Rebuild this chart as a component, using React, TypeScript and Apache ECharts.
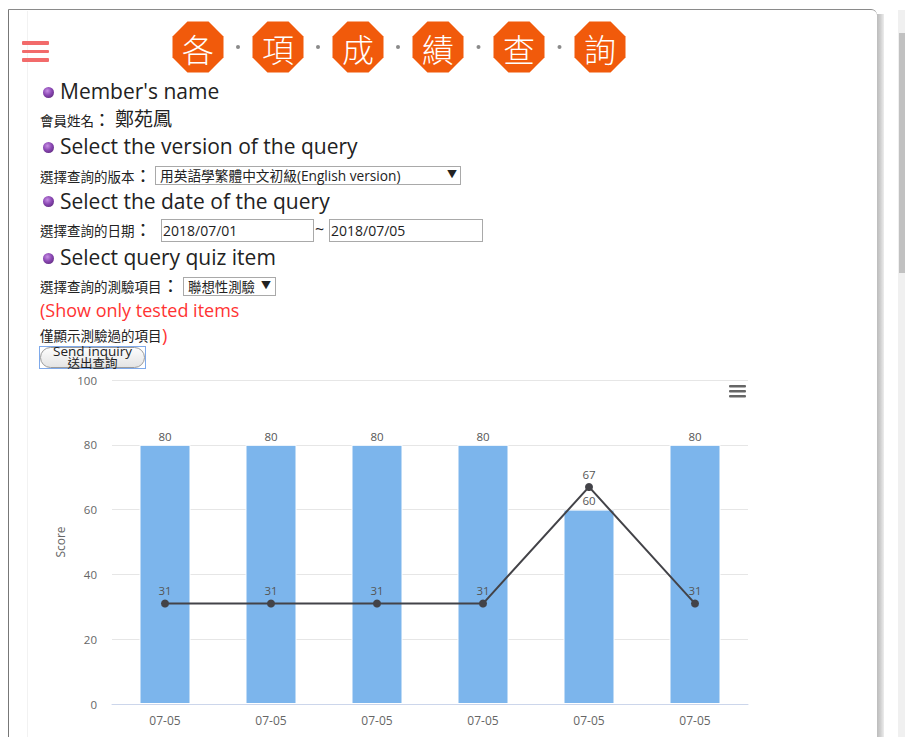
import React, { useEffect, useRef } from "react";
import * as echarts from "echarts";

const categories = ["07-05", "07-05", "07-05", "07-05", "07-05", "07-05"];
const barScores = [80, 80, 80, 80, 60, 80];
const lineScores = [31, 31, 31, 31, 67, 31];
const yAxisName = "Score";
const titleChars = ["各", "項", "成", "績", "查", "詢"];

const FONT = "'Open Sans', 'Noto Sans CJK TC', sans-serif";

function T(props: { x: number; y: number; size: number; color?: string; children: any; weight?: number; lh?: number }) {
  const lh = props.lh || Math.round(props.size * 1.5);
  return (
    <div
      style={{
        position: "absolute",
        left: props.x,
        top: props.y - lh / 2,
        fontSize: props.size,
        lineHeight: lh + "px",
        whiteSpace: "nowrap",
        color: props.color || "#222",
        fontFamily: FONT,
        fontWeight: props.weight || 400,
      }}
    >
      {props.children}
    </div>
  );
}

function Bullet(props: { x: number; y: number }) {
  return (
    <div
      style={{
        position: "absolute",
        left: props.x - 5.5,
        top: props.y - 5.5,
        width: 11,
        height: 11,
        borderRadius: "50%",
        background: "radial-gradient(circle at 40% 35%, #c78fe4 0%, #8a47b3 45%, #4e2069 100%)",
      }}
    />
  );
}

function Box(props: { x: number; y: number; w: number; h: number; children?: any }) {
  return (
    <div
      style={{
        position: "absolute",
        left: props.x,
        top: props.y,
        width: props.w,
        height: props.h,
        boxSizing: "border-box",
        border: "1px solid #a9a9a9",
        background: "#fff",
      }}
    >
      {props.children}
    </div>
  );
}

function Octagons() {
  const centers = [198, 278, 358, 438, 519, 600];
  const cy = 47;
  const r = 27.6;
  const pts = (cx: number) =>
    Array.from({ length: 8 }, (_, k) => {
      const a = ((22.5 + 45 * k) * Math.PI) / 180;
      return `${(cx + r * Math.cos(a)).toFixed(2)},${(cy + r * Math.sin(a)).toFixed(2)}`;
    }).join(" ");
  return (
    <svg style={{ position: "absolute", left: 0, top: 0 }} width={700} height={90}>
      {centers.map((cx, i) => (
        <g key={i}>
          <polygon points={pts(cx)} fill="#f15a0b" />
          <text
            x={cx}
            y={cy + 1}
            fill="#fff"
            fontSize={32}
            fontWeight={300}
            fontFamily="'Noto Sans CJK TC', sans-serif"
            textAnchor="middle"
            dominantBaseline="central"
          >
            {titleChars[i]}
          </text>
          {i < centers.length - 1 ? (
            <circle cx={(cx + centers[i + 1]) / 2} cy={cy} r={2} fill="#8a8a8a" />
          ) : null}
        </g>
      ))}
    </svg>
  );
}

function Chart() {
  const ref = useRef<HTMLDivElement>(null);
  useEffect(() => {
    if (!ref.current) return;
    const chart = echarts.init(ref.current, undefined, { renderer: "svg" });
    chart.setOption({
      animation: false,
      textStyle: { fontFamily: FONT },
      grid: { left: 72, right: 12, top: 10, bottom: 33 },
      xAxis: {
        type: "category",
        data: categories,
        axisLine: { lineStyle: { color: "#ccd6eb", width: 1 } },
        axisTick: { length: 10, lineStyle: { color: "#ccd6eb" } },
        axisLabel: { color: "#666", fontSize: 12, margin: 10 },
      },
      yAxis: {
        type: "value",
        min: 0,
        max: 100,
        interval: 20,
        name: yAxisName,
        nameLocation: "middle",
        nameGap: 46,
        nameTextStyle: { color: "#666", fontSize: 12 },
        axisLabel: { color: "#666", fontSize: 11.5, margin: 15 },
        axisLine: { show: false },
        axisTick: { show: false },
        splitLine: { lineStyle: { color: "#e6e6e6" } },
      },
      series: [
        {
          type: "bar",
          data: barScores,
          barWidth: 51,
          itemStyle: { color: "#7cb5ec", borderColor: "#fff", borderWidth: 1 },
          label: { show: true, position: "top", distance: 3, color: "#555", fontSize: 11.5 },
        },
        {
          type: "line",
          data: lineScores,
          symbol: "circle",
          symbolSize: 8,
          itemStyle: { color: "#434348" },
          lineStyle: { color: "#434348", width: 2 },
          label: { show: true, position: "top", distance: 3, color: "#555", fontSize: 11.5 },
          z: 3,
        },
      ],
      graphic: [
        { type: "rect", left: 689, top: 15, shape: { width: 17, height: 2.6, r: 1 }, style: { fill: "#666" } },
        { type: "rect", left: 689, top: 20, shape: { width: 17, height: 2.6, r: 1 }, style: { fill: "#666" } },
        { type: "rect", left: 689, top: 25, shape: { width: 17, height: 2.6, r: 1 }, style: { fill: "#666" } },
      ],
    });
    return () => chart.dispose();
  }, []);
  return <div ref={ref} style={{ position: "absolute", left: 40, top: 370, width: 720, height: 367 }} />;
}

export default function App() {
  return (
    <div
      style={{
        position: "fixed",
        left: 0,
        top: 0,
        width: 905,
        height: 737,
        overflow: "hidden",
        background: "#fff",
        fontFamily: FONT,
      }}
    >
      {/* frame */}
      <div
        style={{
          position: "absolute",
          left: 8,
          top: 9,
          width: 869,
          height: 760,
          borderTop: "1px solid #8a8a8a",
          borderLeft: "1.5px solid #777",
          borderTopRightRadius: 6,
          boxSizing: "border-box",
        }}
      />
      <div style={{ position: "absolute", left: 27, top: 11, width: 1, height: 740, background: "#f2f2f2" }} />
      <div
        style={{
          position: "absolute",
          left: 877,
          top: 14,
          width: 7,
          height: 740,
          background: "linear-gradient(to right, #bcbcbc, #cfcfcf 50%, #ededed)",
        }}
      />
      {/* scrollbar */}
      <div style={{ position: "absolute", left: 898, top: 10, width: 7, height: 727, background: "#f0f0f0" }} />
      <div style={{ position: "absolute", left: 899, top: 33, width: 6, height: 240, background: "#c1c1c1" }} />

      {/* hamburger */}
      {[41, 49.5, 58].map((y, i) => (
        <div
          key={i}
          style={{ position: "absolute", left: 22, top: y, width: 27, height: 3.5, borderRadius: 1, background: "#f26b6b" }}
        />
      ))}

      <Octagons />

      <Bullet x={48} y={92} />
      <T x={60} y={91} size={21}>Member's name</T>
      <T x={40} y={121} size={13.5}>會員姓名</T>
      <T x={93} y={120} size={18}>：</T>
      <T x={115} y={119} size={19}>鄭苑鳳</T>

      <Bullet x={48} y={147} />
      <T x={60} y={146} size={21}>Select the version of the query</T>
      <T x={40} y={176.5} size={13.5}>選擇查詢的版本</T>
      <T x={134} y={176} size={18}>：</T>
      <Box x={155} y={166} w={306} h={19} />
      <T x={160} y={175.5} size={13.7}>用英語學繁體中文初級(English version)</T>
      <T x={447} y={174.5} size={10}>▼</T>

      <Bullet x={48} y={201} />
      <T x={60} y={201} size={21}>Select the date of the query</T>
      <T x={40} y={231} size={13.5}>選擇查詢的日期</T>
      <T x={134} y={230.5} size={18}>：</T>
      <Box x={161} y={219} w={153} h={23} />
      <T x={163} y={230.5} size={14}>2018/07/01</T>
      <T x={315} y={229} size={16}>~</T>
      <Box x={329} y={219} w={154} h={23} />
      <T x={331} y={230.5} size={14}>2018/07/05</T>

      <Bullet x={48} y={258} />
      <T x={60} y={256.5} size={21}>Select query quiz item</T>
      <T x={40} y={287} size={13.5}>選擇查詢的測驗項目</T>
      <T x={161.5} y={286.5} size={18}>：</T>
      <Box x={183} y={277} w={93} h={19} />
      <T x={188} y={286.5} size={13.4}>聯想性測驗</T>
      <T x={261} y={285.5} size={10}>▼</T>

      <T x={40} y={310} size={18} color="#ff3333">(Show only tested items</T>
      <T x={40} y={336} size={13.5}>僅顯示測驗過的項目</T>
      <T x={162} y={335} size={18} color="#ff3333">)</T>

      {/* button */}
      <div
        style={{
          position: "absolute",
          left: 39,
          top: 346,
          width: 107,
          height: 23,
          boxSizing: "border-box",
          border: "1px solid #7ea9ea",
        }}
      />
      <div
        style={{
          position: "absolute",
          left: 40,
          top: 347,
          width: 105,
          height: 21,
          boxSizing: "border-box",
          border: "1px solid #9a9a9a",
          borderRadius: 11,
          background: "linear-gradient(#fdfdfd, #e4e4e4)",
        }}
      />
      <div
        style={{
          position: "absolute",
          left: 40,
          top: 346,
          width: 105,
          textAlign: "center",
          fontSize: 13.5,
          lineHeight: "11.5px",
          color: "#222",
          fontFamily: FONT,
          whiteSpace: "nowrap",
        }}
      >
        Send inquiry
        <br />
        <span style={{ fontSize: 12.5 }}>送出查詢</span>
      </div>

      <Chart />
    </div>
  );
}
